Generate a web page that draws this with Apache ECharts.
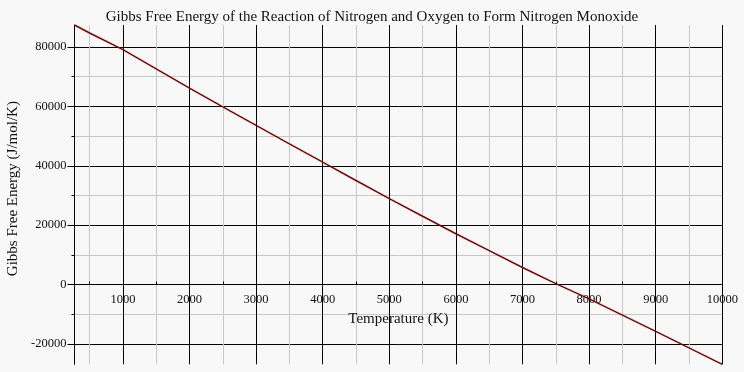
<!DOCTYPE html>
<html>
<head>
<meta charset="utf-8">
<script src="https://cdn.jsdelivr.net/npm/echarts@6/dist/echarts.min.js"></script>
<style>html,body{margin:0;padding:0;background:#f8f8f8;}#c{width:744px;height:372px;}</style>
</head>
<body>
<div id="c"></div>
<script>
// Data
var temperatures = [273.15, 500, 1000, 1500, 2000, 2500, 3000, 3500, 4000, 4500, 5000, 5500, 6000, 6500, 7000, 7500, 8000, 8500, 9000, 9500, 10000];
var gibbsEnergy = [87400, 84700, 79100, 72600, 66150, 59800, 53580, 47400, 41250, 35050, 28920, 23000, 17100, 11400, 5750, 300, -4800, -10300, -15780, -21300, -26850];
var xMajorTicks = [1000, 2000, 3000, 4000, 5000, 6000, 7000, 8000, 9000, 10000];
var xMinorTicks = [500, 1500, 2500, 3500, 4500, 5500, 6500, 7500, 8500, 9500];
var yMajorTicks = [-20000, 0, 20000, 40000, 60000, 80000];
var yMinorTicks = [-10000, 10000, 30000, 50000, 70000];

var titleText = 'Gibbs Free Energy of the Reaction of Nitrogen and Oxygen to Form Nitrogen Monoxide';
var xName = 'Temperature (K)';
var yName = 'Gibbs Free Energy (J/mol/K)';

var seriesData = temperatures.map(function (t, i) { return [t, gibbsEnergy[i]]; });
var xMin = temperatures[0], xMax = temperatures[temperatures.length - 1];
var yMin = Math.min.apply(null, gibbsEnergy), yMax = Math.max.apply(null, gibbsEnergy);
var xAllTicks = xMinorTicks.concat(xMajorTicks).sort(function (a, b) { return a - b; });
function plain(v) { return String(v); }

var W = 744, H = 372;
var GRID = {left: 74.5, right: 21.7, top: 25, bottom: 7.7};
// place the labelled x axis on the y = 0 line (offset from grid bottom, via the y scale)
var gridH = H - GRID.top - GRID.bottom;
var zeroOffset = -gridH * (0 - yMin) / (yMax - yMin);

var FONT = 'Liberation Serif';
var chart = echarts.init(document.getElementById('c'), null, {renderer: 'canvas'});
chart.setOption({
  backgroundColor: '#f8f8f8',
  animation: false,
  title: {
    text: titleText, left: 'center', top: 5,
    textStyle: {fontFamily: FONT, fontSize: 15, fontWeight: 'normal', color: '#111'}
  },
  grid: {left: GRID.left, right: GRID.right, top: GRID.top, bottom: GRID.bottom, containLabel: false, outerBoundsMode: 'none'},
  xAxis: [
    {
      type: 'value', min: xMin, max: xMax, position: 'bottom', offset: zeroOffset,
      name: xName, nameLocation: 'middle', nameGap: 23,
      nameTextStyle: {fontFamily: FONT, fontSize: 15, color: '#111'},
      axisLine: {show: true, onZero: false, lineStyle: {color: '#000', width: 1}},
      axisTick: {show: true, inside: true, length: 3, customValues: xAllTicks, lineStyle: {color: '#000'}},
      axisLabel: {show: true, customValues: xMajorTicks, formatter: plain, margin: 9, fontFamily: FONT, fontSize: 12.5, color: '#111'},
      splitLine: {show: false}
    },
    {
      type: 'value', min: xMin, max: xMax, position: 'bottom',
      axisLine: {show: false, onZero: false},
      axisTick: {show: false, customValues: xMinorTicks},
      axisLabel: {show: false, customValues: xMinorTicks},
      splitLine: {show: true, lineStyle: {color: '#c8c8c8', width: 1}}
    },
    {
      type: 'value', min: xMin, max: xMax, position: 'top',
      axisLine: {show: false, onZero: false},
      axisTick: {show: false, customValues: xMajorTicks},
      axisLabel: {show: false, customValues: xMajorTicks},
      splitLine: {show: true, lineStyle: {color: '#000', width: 1}}
    }
  ],
  yAxis: [
    {
      type: 'value', min: yMin, max: yMax, position: 'left',
      axisLine: {show: false, onZero: false},
      axisTick: {show: true, inside: false, length: 3, customValues: yMinorTicks, lineStyle: {color: '#000'}},
      axisLabel: {show: false, customValues: yMinorTicks},
      splitLine: {show: true, lineStyle: {color: '#c8c8c8', width: 1}}
    },
    {
      type: 'value', min: yMin, max: yMax, position: 'left', offset: 0,
      name: yName, nameLocation: 'middle', nameGap: 48,
      nameTextStyle: {fontFamily: FONT, fontSize: 15, color: '#111', padding: [0, 0, 0, 12]},
      axisLine: {show: true, onZero: false, lineStyle: {color: '#000', width: 1}},
      axisTick: {show: true, inside: false, length: 7, customValues: yMajorTicks, lineStyle: {color: '#000'}},
      axisLabel: {show: true, customValues: yMajorTicks, formatter: plain, margin: 8, fontFamily: FONT, fontSize: 12.5, color: '#111'},
      splitLine: {show: true, lineStyle: {color: '#000', width: 1}}
    }
  ],
  series: [{
    type: 'line', xAxisIndex: 0, yAxisIndex: 1,
    data: seriesData, showSymbol: false, smooth: false,
    lineStyle: {color: '#800000', width: 1.5},
    z: 5
  }]
});
</script>
</body>
</html>
